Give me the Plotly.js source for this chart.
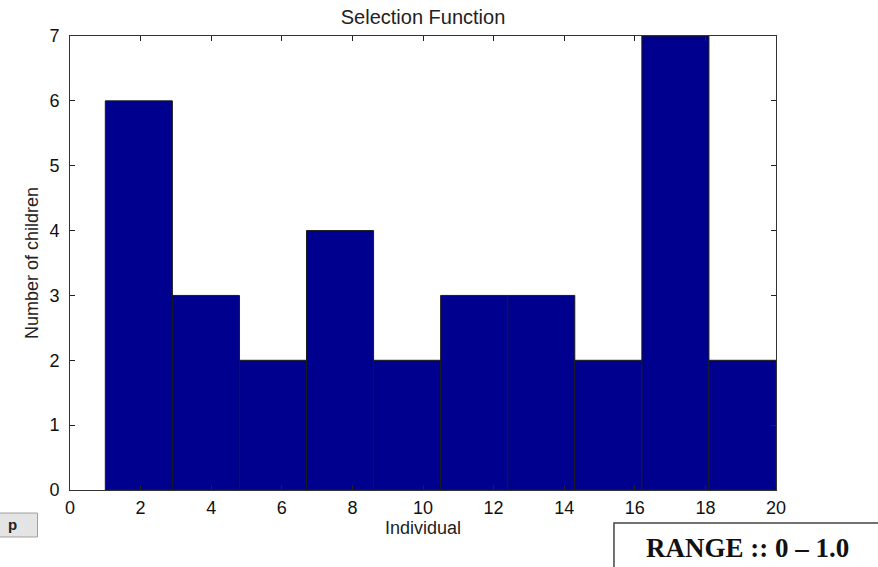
<!DOCTYPE html>
<html>
<head>
<meta charset="utf-8">
<script src="https://cdn.plot.ly/plotly-2.35.2.min.js"></script>
<style>
html,body{margin:0;padding:0;background:#fff;}
#chart{width:878px;height:567px;}
</style>
</head>
<body>
<div id="chart"></div>
<script>
// Histogram of selected individuals: 10 bins spanning 1..20
const binCenters = [1.95, 3.85, 5.75, 7.65, 9.55, 11.45, 13.35, 15.25, 17.15, 19.05];
const counts = [6, 3, 2, 4, 2, 3, 3, 2, 7, 2];
const binWidth = 1.9;
const xTicks = [0, 2, 4, 6, 8, 10, 12, 14, 16, 18, 20];
const yTicks = [0, 1, 2, 3, 4, 5, 6, 7];

const trace = {
  type: 'bar',
  x: binCenters,
  y: counts,
  width: binCenters.map(() => binWidth),
  marker: {color: '#00008f', line: {color: '#1a1a1a', width: 1}},
  hoverinfo: 'x+y'
};

const sans = 'Liberation Sans, Arial, sans-serif';
const axisFont = {family: sans, size: 18, color: '#111'};

const layout = {
  width: 878, height: 567,
  margin: {l: 70, r: 102, t: 36, b: 77, pad: 0},
  paper_bgcolor: '#ffffff',
  plot_bgcolor: '#ffffff',
  showlegend: false,
  bargap: 0,
  title: {text: 'Selection Function', x: 0.4818, xanchor: 'center', y: 0.97, yanchor: 'middle',
          font: {family: sans, size: 20, color: '#222'}},
  xaxis: {
    range: [0, 20], tickvals: xTicks, ticktext: xTicks.map(String),
    ticks: 'inside', ticklen: 5, tickcolor: '#222', mirror: 'ticks',
    showline: true, linecolor: '#333', linewidth: 1, showgrid: false, zeroline: false,
    tickfont: axisFont, ticklabelstandoff: 1,
    title: {text: 'Individual', font: {family: sans, size: 18, color: '#222'}, standoff: 2}
  },
  yaxis: {
    range: [0, 7], tickvals: yTicks, ticktext: yTicks.map(String),
    ticks: 'inside', ticklen: 5, tickcolor: '#222', mirror: 'ticks',
    showline: true, linecolor: '#333', linewidth: 1, showgrid: false, zeroline: false,
    tickfont: axisFont, ticklabelstandoff: 6,
    title: {text: 'Number of children', font: {family: sans, size: 18, color: '#222'}, standoff: 6}
  },
  shapes: [
    // "p" button
    {type: 'rect', xref: 'paper', yref: 'paper', x0: -0.105, x1: -0.046, y0: -0.1035, y1: -0.0507,
     line: {color: '#a0a0a0', width: 1}, fillcolor: '#e4e4e4', layer: 'above'},
    // RANGE box
    {type: 'rect', xref: 'paper', yref: 'paper', x0: 0.7705, x1: 1.16, y0: -0.19, y1: -0.0727,
     line: {color: '#444', width: 1.5}, fillcolor: '#ffffff', layer: 'above'}
  ],
  annotations: [
    {text: '<b>p</b>', xref: 'paper', yref: 'paper', x: -0.091, y: -0.077, xanchor: 'left', yanchor: 'middle',
     showarrow: false, font: {family: sans, size: 15, color: '#222'}},
    {text: '<b>RANGE :: 0 – 1.0</b>', xref: 'paper', yref: 'paper', x: 0.9603, y: -0.128, xanchor: 'center', yanchor: 'middle',
     showarrow: false, font: {family: 'Liberation Serif, Times New Roman, serif', size: 27, color: '#111'}}
  ]
};

Plotly.newPlot('chart', [trace], layout, {displayModeBar: false, staticPlot: true});
</script>
</body>
</html>
